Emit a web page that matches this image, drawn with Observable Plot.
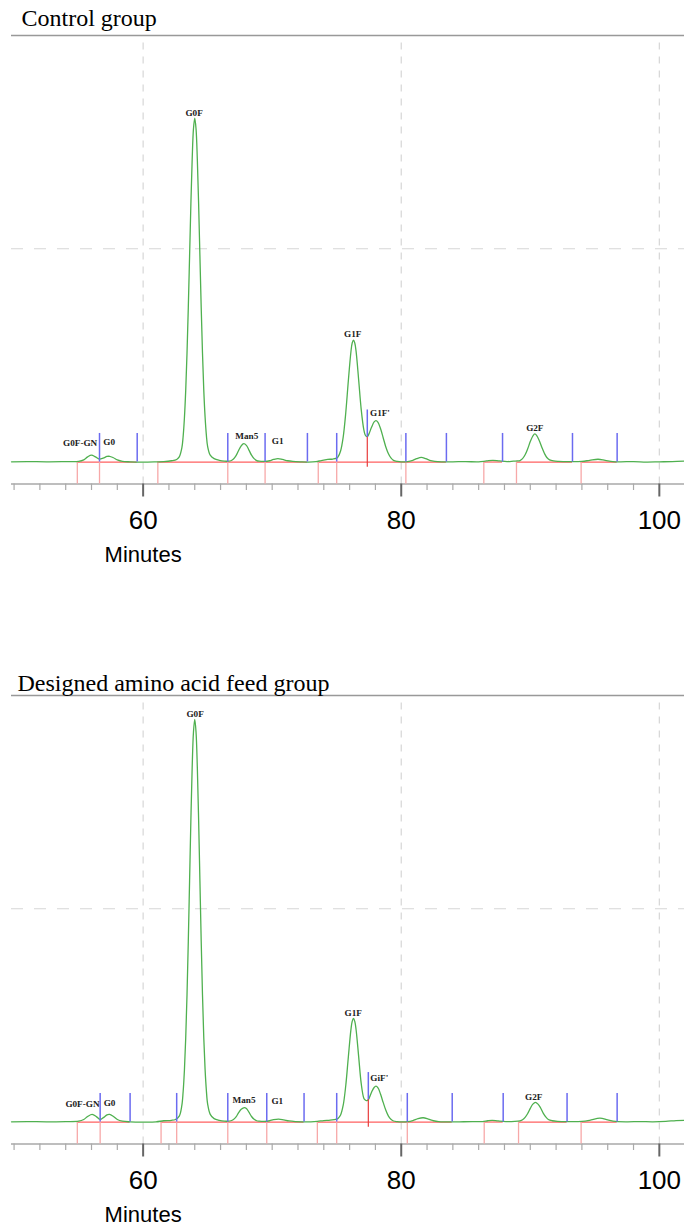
<!DOCTYPE html>
<html><head><meta charset="utf-8">
<script src="https://cdn.jsdelivr.net/npm/d3@7"></script>
<script src="https://cdn.jsdelivr.net/npm/@observablehq/plot@0.6"></script>
<style>
body{margin:0;background:#fff;}
#wrap{width:684px;height:1228px;overflow:hidden;background:#fff}
svg{display:block}
</style></head><body><div id="wrap"></div>
<script>
// ---------- data ----------
const titles = ["Control group", "Designed amino acid feed group"];
const majorTicks = [60, 80, 100];
const minorTicks = [50,52,54,56,58,62,64,66,68,70,72,74,76,78,82,84,86,88,90,92,94,96,98];
const gridY = [50];
const topY = [100];

// chromatogram traces: [minutes, signal]
const traceControl = [
[49.8,0.05],[51,0.1],[52.5,0.05],[54,0.1],[55,0.15],[55.4,0.5],[55.7,1.2],[56.0,1.6],[56.3,1.2],[56.6,0.7],[56.9,0.9],[57.2,1.3],[57.4,1.35],[57.7,1.0],[58.0,0.5],[58.4,0.15],[59,0.05],[60,0.0],[61,0.05],[61.6,0.1],[62.2,0.3],[62.6,0.6],[62.8,1.2],
[63.0,3.3],[63.1,6.0],[63.2,10.4],[63.3,16.8],[63.4,25.5],[63.5,36.2],[63.6,48.3],[63.7,60.5],[63.8,70.9],[63.9,78.1],[64.0,80.6],[64.1,78.1],[64.2,70.9],[64.3,60.5],[64.4,48.3],[64.5,36.2],[64.6,25.5],[64.7,16.8],[64.8,10.6],[64.9,6.3],[65.0,3.6],[65.2,1.6],[65.5,0.8],[65.9,0.4],[66.3,0.2],[66.6,0.2],
[66.8,0.3],[67.0,0.7],[67.2,1.5],[67.4,2.7],[67.6,3.8],[67.8,4.3],[68.0,3.9],[68.2,2.8],[68.4,1.6],[68.6,0.8],[68.8,0.35],[69.0,0.2],[69.4,0.15],[69.8,0.3],[70.1,0.6],[70.45,0.8],[70.8,0.6],[71.2,0.3],[71.6,0.15],[72.2,0.05],[72.8,0.0],[73.4,0.1],[73.8,0.35],[74.3,0.6],[74.7,0.7],[75.0,0.9],
[75.1,1.2],[75.3,2.6],[75.5,5.8],[75.7,11.5],[75.9,19.0],[76.1,25.8],[76.2,27.9],[76.3,28.6],[76.4,27.9],[76.5,26.0],[76.7,19.3],[76.9,12.3],[77.1,7.6],[77.2,6.4],[77.3,6.0],[77.4,6.05],[77.5,6.6],[77.7,8.15],[77.9,9.4],[78.04,9.7],[78.2,9.3],[78.4,7.8],[78.6,5.7],[78.8,3.6],[79.0,2.0],[79.2,0.97],[79.4,0.4],[79.7,0.15],[80.0,0.05],
[80.5,0.1],[80.9,0.4],[81.2,0.8],[81.55,1.1],[81.9,0.8],[82.2,0.4],[82.6,0.15],[83.2,0.05],[84,0.05],[85,0.1],[86,0.05],[86.6,0.25],[87.1,0.4],[87.6,0.25],[88.2,0.1],[88.7,0.2],
[89.0,0.25],[89.2,0.35],[89.4,0.8],[89.6,1.7],[89.8,3.1],[90.0,4.8],[90.2,6.1],[90.35,6.6],[90.5,6.2],[90.7,5.0],[90.9,3.4],[91.1,2.0],[91.3,1.0],[91.5,0.5],[91.8,0.25],[92.2,0.15],[93,0.1],[94,0.15],[94.6,0.4],[95.25,0.65],[95.8,0.4],[96.4,0.1],[97,0.05],[98,0.1],[99,0.0],[100,0.05],[101,0.1],[101.95,0.2]
];
const traceFeed = [
[49.8,0.05],[51,0.1],[52.5,0.05],[54,0.1],[55,0.2],[55.4,0.6],[55.7,1.3],[56.05,1.8],[56.4,1.2],[56.67,0.6],[56.95,1.1],[57.2,1.7],[57.4,1.8],[57.7,1.3],[58.0,0.6],[58.4,0.2],[59,0.05],[60,0.0],[61,0.05],[61.6,0.3],[62.2,0.4],[62.5,0.6],[62.8,1.4],
[63.0,3.9],[63.1,7.1],[63.2,12.2],[63.3,19.7],[63.4,29.8],[63.5,42.4],[63.6,56.6],[63.7,70.8],[63.8,83.1],[63.9,91.4],[64.0,94.4],[64.1,91.4],[64.2,83.1],[64.3,70.8],[64.4,56.6],[64.5,42.4],[64.6,29.8],[64.7,19.7],[64.8,12.4],[64.9,7.4],[65.0,4.2],[65.2,1.8],[65.5,0.8],[65.9,0.4],[66.3,0.2],[66.6,0.2],
[66.8,0.3],[67.0,0.6],[67.2,1.2],[67.4,2.2],[67.6,3.0],[67.85,3.4],[68.0,3.2],[68.2,2.3],[68.4,1.3],[68.6,0.65],[68.8,0.3],[69.0,0.2],[69.4,0.15],[69.8,0.3],[70.1,0.55],[70.5,0.7],[70.9,0.5],[71.3,0.25],[71.8,0.1],[72.4,0.05],[73.0,0.05],[73.5,0.15],[74.0,0.35],[74.5,0.45],[75.0,0.7],
[75.1,0.85],[75.3,1.65],[75.5,3.9],[75.7,8.5],[75.9,15.2],[76.1,21.6],[76.2,23.6],[76.3,24.3],[76.4,23.6],[76.5,21.7],[76.7,15.4],[76.9,9.0],[77.1,5.6],[77.2,5.2],[77.3,5.0],[77.4,5.1],[77.5,5.5],[77.7,7.0],[77.9,8.1],[78.04,8.4],[78.2,8.0],[78.4,6.5],[78.6,4.6],[78.8,2.8],[79.0,1.43],[79.2,0.63],[79.4,0.24],[79.7,0.1],[80.0,0.05],
[80.5,0.1],[80.9,0.35],[81.3,0.8],[81.7,1.0],[82.1,0.7],[82.5,0.3],[82.9,0.1],[83.5,0.05],[84.5,0.05],[85.5,0.1],[86.3,0.1],[86.7,0.3],[87.05,0.4],[87.5,0.25],[88.1,0.1],[88.8,0.15],
[89.2,0.3],[89.4,0.55],[89.6,1.1],[89.8,2.0],[90.0,3.2],[90.2,4.2],[90.4,4.6],[90.6,4.2],[90.8,3.3],[91.0,2.1],[91.2,1.2],[91.4,0.6],[91.7,0.3],[92.1,0.15],[93.0,0.1],[94.0,0.15],[94.6,0.4],[95.4,0.9],[96.0,0.5],[96.6,0.15],[97.5,0.05],[98.5,0.1],[99.5,0.05],[100.5,0.15],[101.3,0.35],[101.95,0.4]
];

// peak labels: [text, minutes, signal]
const labelsControl = [["G0F-GN",55.12,4.5],["G0",57.37,4.75],["G0F",63.95,81.8],["Man5",68.03,6.1],["G1",70.43,5.0],["G1F",76.24,30.0],["G1F'",78.35,11.4],["G2F",90.35,7.9]];
const labelsFeed = [["G0F-GN",55.3,4.15],["G0",57.4,4.4],["G0F",64.03,95.7],["Man5",67.82,5.15],["G1",70.4,4.9],["G1F",76.28,25.5],["GiF'",78.3,10.2],["G2F",90.27,5.9]];

// integration events (minutes)
const peakEndControl = [56.62,59.54,66.56,69.45,72.73,75.0,80.36,83.5,87.85,93.27,96.73];
const peakStartControl = [54.9,56.62,61.14,66.56,69.45,73.57,75.0,80.36,86.4,88.93,93.94];
const baselineControl = [[54.9,59.54],[61.14,72.73],[73.57,83.5],[86.4,87.85],[88.93,93.27],[93.94,96.73]];
const valleyControl = [[77.37,5.8]];

const peakEndFeed = [56.67,58.99,62.6,66.56,69.58,72.47,75.0,80.47,83.95,87.9,92.85,96.73];
const peakStartFeed = [54.9,56.67,61.39,62.6,66.56,69.58,73.5,75.0,80.47,86.43,89.09,93.94];
const baselineFeed = [[54.9,58.99],[61.39,72.47],[73.5,83.95],[86.43,87.9],[89.09,92.85],[93.94,96.73]];
const valleyFeed = [[77.45,5.2]];

// ---------- drawing ----------
const Y0 = -5.15, XD = [49.8, 101.95];
const serif = "'Liberation Serif','Times New Roman',Times,serif";
const sans = "'Liberation Sans',Arial,Helvetica,sans-serif";

function panel(o) {
  const svg = Plot.plot({
    width: 684, height: o.height,
    marginLeft: 11, marginRight: 0, marginTop: o.marginTop, marginBottom: o.marginBottom,
    x: {domain: XD, axis: null},
    y: {domain: [Y0, 100], axis: null},
    style: {background: "white", overflow: "visible"},
    marks: [
      Plot.ruleX(majorTicks, {y1: Y0, y2: 100, stroke: "#d6d6d6", strokeWidth: 1.2, strokeDasharray: "7,7"}),
      Plot.ruleY(gridY, {stroke: "#d6d6d6", strokeWidth: 1.2, strokeDasharray: "12,11"}),
      Plot.ruleY(topY, {stroke: "#999", strokeWidth: 1.7}),
      Plot.ruleY([Y0], {stroke: "#a8a8a8", strokeWidth: 1.6}),
      Plot.axisX({ticks: minorTicks, tickSize: 6.5, tickFormat: () => "", stroke: "#aaa", strokeWidth: 1.2, label: null}),
      Plot.axisX({ticks: majorTicks, tickSize: 13, tickPadding: 14, fontSize: 26, fontFamily: sans, stroke: "#666", strokeWidth: 2, fill: "black", label: null}),
      Plot.text([{t: 60, s: "Minutes"}], {x: "t", text: "s", frameAnchor: "bottom", dy: 78, fontSize: 22, fontFamily: sans, fill: "black"}),
      Plot.ruleY(o.base, {x1: d => d[0], x2: d => d[1], y: 0, stroke: "#ff6060", strokeWidth: 1.2}),
      Plot.ruleX(o.starts, {y1: 0, y2: Y0, stroke: "#f7a8a8", strokeWidth: 1.3}),
      Plot.line(o.trace, {x: d => d[0], y: d => d[1], stroke: "#4fb04f", strokeWidth: 1.3, curve: "catmull-rom"}),
      Plot.ruleX(o.ends, {y1: 0, y2: 6.7, stroke: "#6b6bf0", strokeWidth: 1.5}),
      Plot.ruleX(o.valley, {x: d => d[0], y1: d => d[1], y2: d => d[1] + 6.4, stroke: "#6b6bf0", strokeWidth: 1.5}),
      Plot.ruleX(o.valley, {x: d => d[0], y1: d => d[1], y2: -1.2, stroke: "#e83c3c", strokeWidth: 1.2}),
      Plot.text(o.labels, {x: d => d[1], y: d => d[2], text: d => d[0], fontSize: 9.2, fontWeight: "bold", fontFamily: serif, fill: "#222"}),
      Plot.text([o.title], {frameAnchor: "top-left", dx: o.titleDx, dy: o.titleDy, lineAnchor: "bottom", textAnchor: "start", fontSize: 24, fontFamily: serif, fill: "black"})
    ]
  });
  return svg;
}

const wrap = document.getElementById("wrap");
wrap.appendChild(panel({title: titles[0], titleDx: 10, titleDy: -9.5, height: 600, marginTop: 35, marginBottom: 116.5,
  trace: traceControl, labels: labelsControl, ends: peakEndControl, starts: peakStartControl, base: baselineControl, valley: valleyControl}));
wrap.appendChild(panel({title: titles[1], titleDx: 6, titleDy: -5, height: 628, marginTop: 95, marginBottom: 84.5,
  trace: traceFeed, labels: labelsFeed, ends: peakEndFeed, starts: peakStartFeed, base: baselineFeed, valley: valleyFeed}));
</script></body></html>
